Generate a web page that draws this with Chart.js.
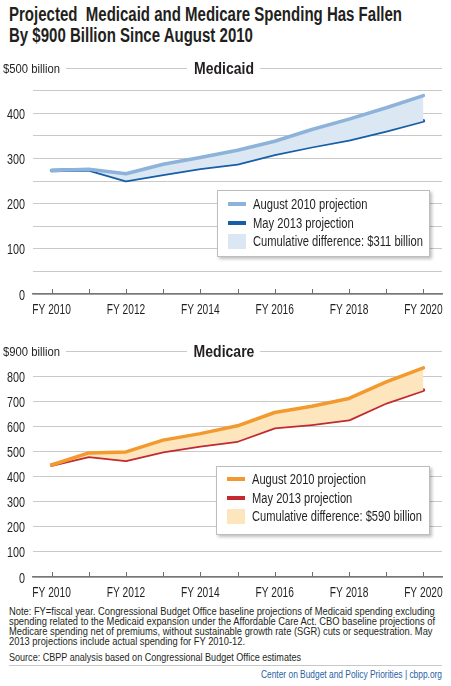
<!DOCTYPE html>
<html>
<head>
<meta charset="utf-8">
<script src="https://cdn.jsdelivr.net/npm/chart.js@4.4.0/dist/chart.umd.min.js"></script>
<style>
  body { margin: 0; background: #fff; }
  #page { position: relative; width: 451px; height: 686px; overflow: hidden; font-family: "Liberation Sans", Arial, sans-serif; color: #231f20; }
  .fit { display: inline-block; white-space: pre; transform-origin: 0 0; }
  #title { position: absolute; left: 9px; top: 4px; font-weight: bold; font-size: 20px; line-height: 21px; }
  .wrap { position: absolute; left: 0; }
  .legend { position: absolute; background: #fff; border: 1px solid #bdbdbd; box-shadow: 2px 2px 3px rgba(0,0,0,0.25); font-size: 14px; }
  .legend .row { position: absolute; left: 35px; line-height: 16px; }
  .legend .sw { position: absolute; left: 10px; width: 18px; }
  #notes { position: absolute; left: 9px; top: 607px; font-size: 10.5px; line-height: 9.9px; }
  #source { position: absolute; left: 9px; top: 651px; font-size: 10.5px; line-height: 12px; }
  #rule { position: absolute; left: 9px; top: 665px; width: 433px; height: 1px; background: #c8c8c8; }
  #credit { position: absolute; left: 261px; top: 668px; font-size: 10.5px; line-height: 12px; color: #1f5fa6; }
</style>
</head>
<body>
<div id="page">
  <div id="title"><span class="fit" data-w="393">Projected  Medicaid and Medicare Spending Has Fallen
By $900 Billion Since August 2010</span></div>

  <div class="wrap" style="top:55px"><canvas id="c1" width="451" height="262"></canvas></div>
  <div class="legend" style="left:217px; top:190px; width:211px; height:65px;">
    <div class="sw" style="top:11px; height:4px; background:#8db3da;"></div>
    <div class="row" style="top:5px;"><span class="fit lg1">August 2010 projection</span></div>
    <div class="sw" style="top:30px; height:4px; background:#165ea8;"></div>
    <div class="row" style="top:24px;"><span class="fit lg1">May 2013 projection</span></div>
    <div class="sw" style="top:43px; height:15px; background:#dbe7f2;"></div>
    <div class="row" style="top:42px;"><span class="fit lg1" data-w="170">Cumulative difference: $311 billion</span></div>
  </div>

  <div class="wrap" style="top:337px"><canvas id="c2" width="451" height="263"></canvas></div>
  <div class="legend" style="left:216px; top:466px; width:212px; height:67px;">
    <div class="sw" style="top:10px; height:4px; background:#f29a2e;"></div>
    <div class="row" style="top:4px;"><span class="fit lg2">August 2010 projection</span></div>
    <div class="sw" style="top:29px; height:4px; background:#c22a30;"></div>
    <div class="row" style="top:23px;"><span class="fit lg2">May 2013 projection</span></div>
    <div class="sw" style="top:42px; height:15px; background:#fde6bd;"></div>
    <div class="row" style="top:41px;"><span class="fit lg2" data-w="170">Cumulative difference: $590 billion</span></div>
  </div>

  <div id="notes"><span class="fit" data-w="426">Note: FY=fiscal year. Congressional Budget Office baseline projections of Medicaid spending excluding
spending related to the Medicaid expansion under the Affordable Care Act. CBO baseline projections of
Medicare spending net of premiums, without sustainable growth rate (SGR) cuts or sequestration. May
2013 projections include actual spending for FY 2010-12.</span></div>
  <div id="source"><span class="fit" data-w="292">Source: CBPP analysis based on Congressional Budget Office estimates</span></div>
  <div id="rule"></div>
  <div id="credit"><span class="fit" data-w="181">Center on Budget and Policy Priorities | cbpp.org</span></div>
</div>

<script>
const years = ['2010','2011','2012','2013','2014','2015','2016','2017','2018','2019','2020'];

// Medicaid, $ billions
const medicaidAug2010 = [273, 276, 266, 287, 302, 318, 338, 364, 387, 412, 439];
const medicaidMay2013 = [273, 275, 251, 265, 278, 288, 309, 326, 341, 361, 383];

// Medicare net of premiums, $ billions
const medicareAug2010 = [446, 494, 498, 545, 571, 602, 655, 680, 711, 777, 833];
const medicareMay2013 = [446, 481, 465, 500, 523, 542, 595, 608, 627, 694, 744];

const FONT = '"Liberation Sans", Arial, sans-serif';
const INK = '#231f20';

// squeeze html text to the width it has in the original (condensed face)
function squeeze(els, target) {
  let w = 0;
  els.forEach(e => { w = Math.max(w, e.getBoundingClientRect().width); });
  const k = target / w;
  els.forEach(e => { e.style.transform = 'scaleX(' + k + ')'; });
}
document.querySelectorAll('.fit[data-w]').forEach(e => {
  if (e.classList.contains('lg1')) squeeze([...document.querySelectorAll('.lg1')], +e.dataset.w);
  else if (e.classList.contains('lg2')) squeeze([...document.querySelectorAll('.lg2')], +e.dataset.w);
  else squeeze([e], +e.dataset.w);
});

function textX(ctx, s, x, y, sx, align) {
  ctx.save();
  ctx.translate(x, y);
  ctx.scale(sx, 1);
  ctx.textAlign = align;
  ctx.textBaseline = 'alphabetic';
  ctx.fillText(s, 0, 0);
  ctx.restore();
}

// condensed tick labels, unit label and panel title on the top gridline
const headerPlugin = {
  id: 'header',
  afterDraw(chart) {
    const o = chart.options.plugins.header;
    const ctx = chart.ctx;
    const ys = chart.scales.y, xs = chart.scales.x;
    const area = chart.chartArea;
    const y = ys.getPixelForValue(o.max);
    const cx = 224;
    ctx.save();
    ctx.fillStyle = '#fff';
    ctx.fillRect(0, y - 9, 66, 18);
    ctx.fillRect(187, y - 9, 73, 18);
    ctx.fillStyle = INK;
    ctx.font = 'bold 16.5px ' + FONT;
    textX(ctx, o.title, cx, y + 6, 0.85, 'center');
    ctx.font = '12.5px ' + FONT;
    textX(ctx, o.unit, 3, y + 4.5, 0.9, 'left');

    ctx.font = '15px ' + FONT;
    ys.ticks.forEach((t, i) => {
      if (t.value === o.max || t.value % o.labelStep !== 0) return;
      textX(ctx, String(t.value), area.left - 8, ys.getPixelForTick(i) + 5.5, 0.72, 'right');
    });
    xs.ticks.forEach((t, i) => {
      if (i % 2 === 0) textX(ctx, 'FY ' + years[i], xs.getPixelForTick(i), area.bottom + 19.5, 0.68, 'center');
    });

    // small tick marks pointing up from the baseline
    ctx.strokeStyle = '#6d6d6d';
    ctx.lineWidth = 1;
    xs.ticks.forEach((t, i) => {
      const px = Math.round(xs.getPixelForTick(i)) + 0.5;
      ctx.beginPath();
      ctx.moveTo(px, area.bottom - 5);
      ctx.lineTo(px, area.bottom);
      ctx.stroke();
    });
    ctx.restore();
  }
};

function makeChart(id, aug, may, c1, c2, fillCol, max, step, title, unit, padTop) {
  return new Chart(document.getElementById(id), {
    type: 'line',
    data: {
      labels: years,
      datasets: [
        { data: aug, borderColor: c1, borderWidth: 3.5, pointRadius: 0, tension: 0,
          fill: '+1', backgroundColor: fillCol, borderJoinStyle: 'round', borderCapStyle: 'round' },
        { data: may, borderColor: c2, borderWidth: 3.5, pointRadius: 0, tension: 0,
          fill: false, borderJoinStyle: 'round', borderCapStyle: 'round' }
      ]
    },
    options: {
      responsive: false,
      animation: false,
      layout: { padding: { top: padTop, right: 9, left: 0, bottom: 0 } },
      plugins: {
        legend: { display: false },
        tooltip: { enabled: false },
        header: { max: max, title: title, unit: unit, labelStep: 100 }
      },
      scales: {
        x: {
          offset: true,
          grid: { display: false, drawTicks: false },
          border: { display: true, color: '#777', width: 1.5 },
          ticks: { autoSkip: false, maxRotation: 0, color: 'rgba(0,0,0,0)' },
          afterFit: s => { s.height = 23; }
        },
        y: {
          min: 0, max: max,
          grid: { color: '#c9c9c9', lineWidth: 1, drawTicks: false },
          border: { display: false },
          ticks: { stepSize: step, color: 'rgba(0,0,0,0)' },
          afterFit: s => { s.width = 33; }
        }
      }
    },
    plugins: [headerPlugin]
  });
}

makeChart('c1', medicaidAug2010, medicaidMay2013, '#8db3da', '#165ea8', '#dbe7f2',
  500, 50, 'Medicaid', '$500 billion', 13);
makeChart('c2', medicareAug2010, medicareMay2013, '#f29a2e', '#c22a30', '#fde6bd',
  900, 100, 'Medicare', '$900 billion', 14);
</script>
</body>
</html>
